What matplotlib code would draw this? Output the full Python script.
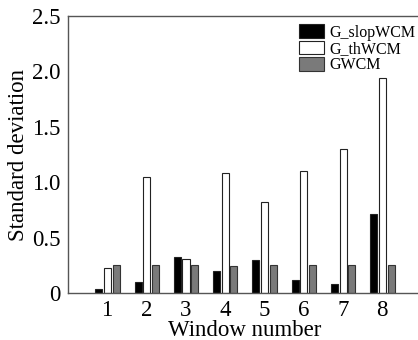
import matplotlib
matplotlib.use("Agg")
import matplotlib.pyplot as plt
import numpy as np

windows = [1, 2, 3, 4, 5, 6, 7, 8]
slop_wcm = [0.04, 0.10, 0.33, 0.20, 0.30, 0.12, 0.08, 0.71]
th_wcm = [0.23, 1.05, 0.31, 1.08, 0.82, 1.10, 1.30, 1.94]
g_wcm = [0.25, 0.25, 0.25, 0.24, 0.25, 0.25, 0.25, 0.25]
series_names = ["G_slopWCM", "G_thWCM", "GWCM"]

plt.rcParams['font.family'] = ['Liberation Serif', 'DejaVu Serif']

fig = plt.figure(figsize=(4.18, 3.4), dpi=100)
ax = fig.add_axes([0.162, 0.138, 0.846, 0.815])

x = np.array(windows)
w = 0.18
ax.bar(x - 0.21, slop_wcm, w, color="black", edgecolor="#222222", linewidth=0.8, label=series_names[0])
ax.bar(x + 0.01, th_wcm, w, color="white", edgecolor="#222222", linewidth=0.8, label=series_names[1])
ax.bar(x + 0.23, g_wcm, w, color="#7a7a7a", edgecolor="#333333", linewidth=0.8, label=series_names[2])

ax.set_xlim(0, 9)
ax.set_ylim(0, 2.5)
ax.set_xticks(windows)
ax.set_yticks([0, 0.5, 1.0, 1.5, 2.0, 2.5])
ax.set_yticklabels(["0", "0.5", "1.0", "1.5", "2.0", "2.5"])
ax.tick_params(length=0, labelsize=16.5, pad=5)
ax.spines["right"].set_visible(False)
for s in ax.spines.values():
    s.set_color("#555555")
    s.set_linewidth(1.0)

ax.set_xlabel("Window number", fontsize=16.5, labelpad=-1)
ax.set_ylabel("Standard deviation", fontsize=16.5, labelpad=2)

ax.legend(loc="upper right", bbox_to_anchor=(1.01, 1.005), frameon=False, fontsize=11.5,
          handlelength=1.55, handleheight=0.95, handletextpad=0.35, labelspacing=0.0,
          borderaxespad=0.2)

fig.savefig("out.png", dpi=100)
